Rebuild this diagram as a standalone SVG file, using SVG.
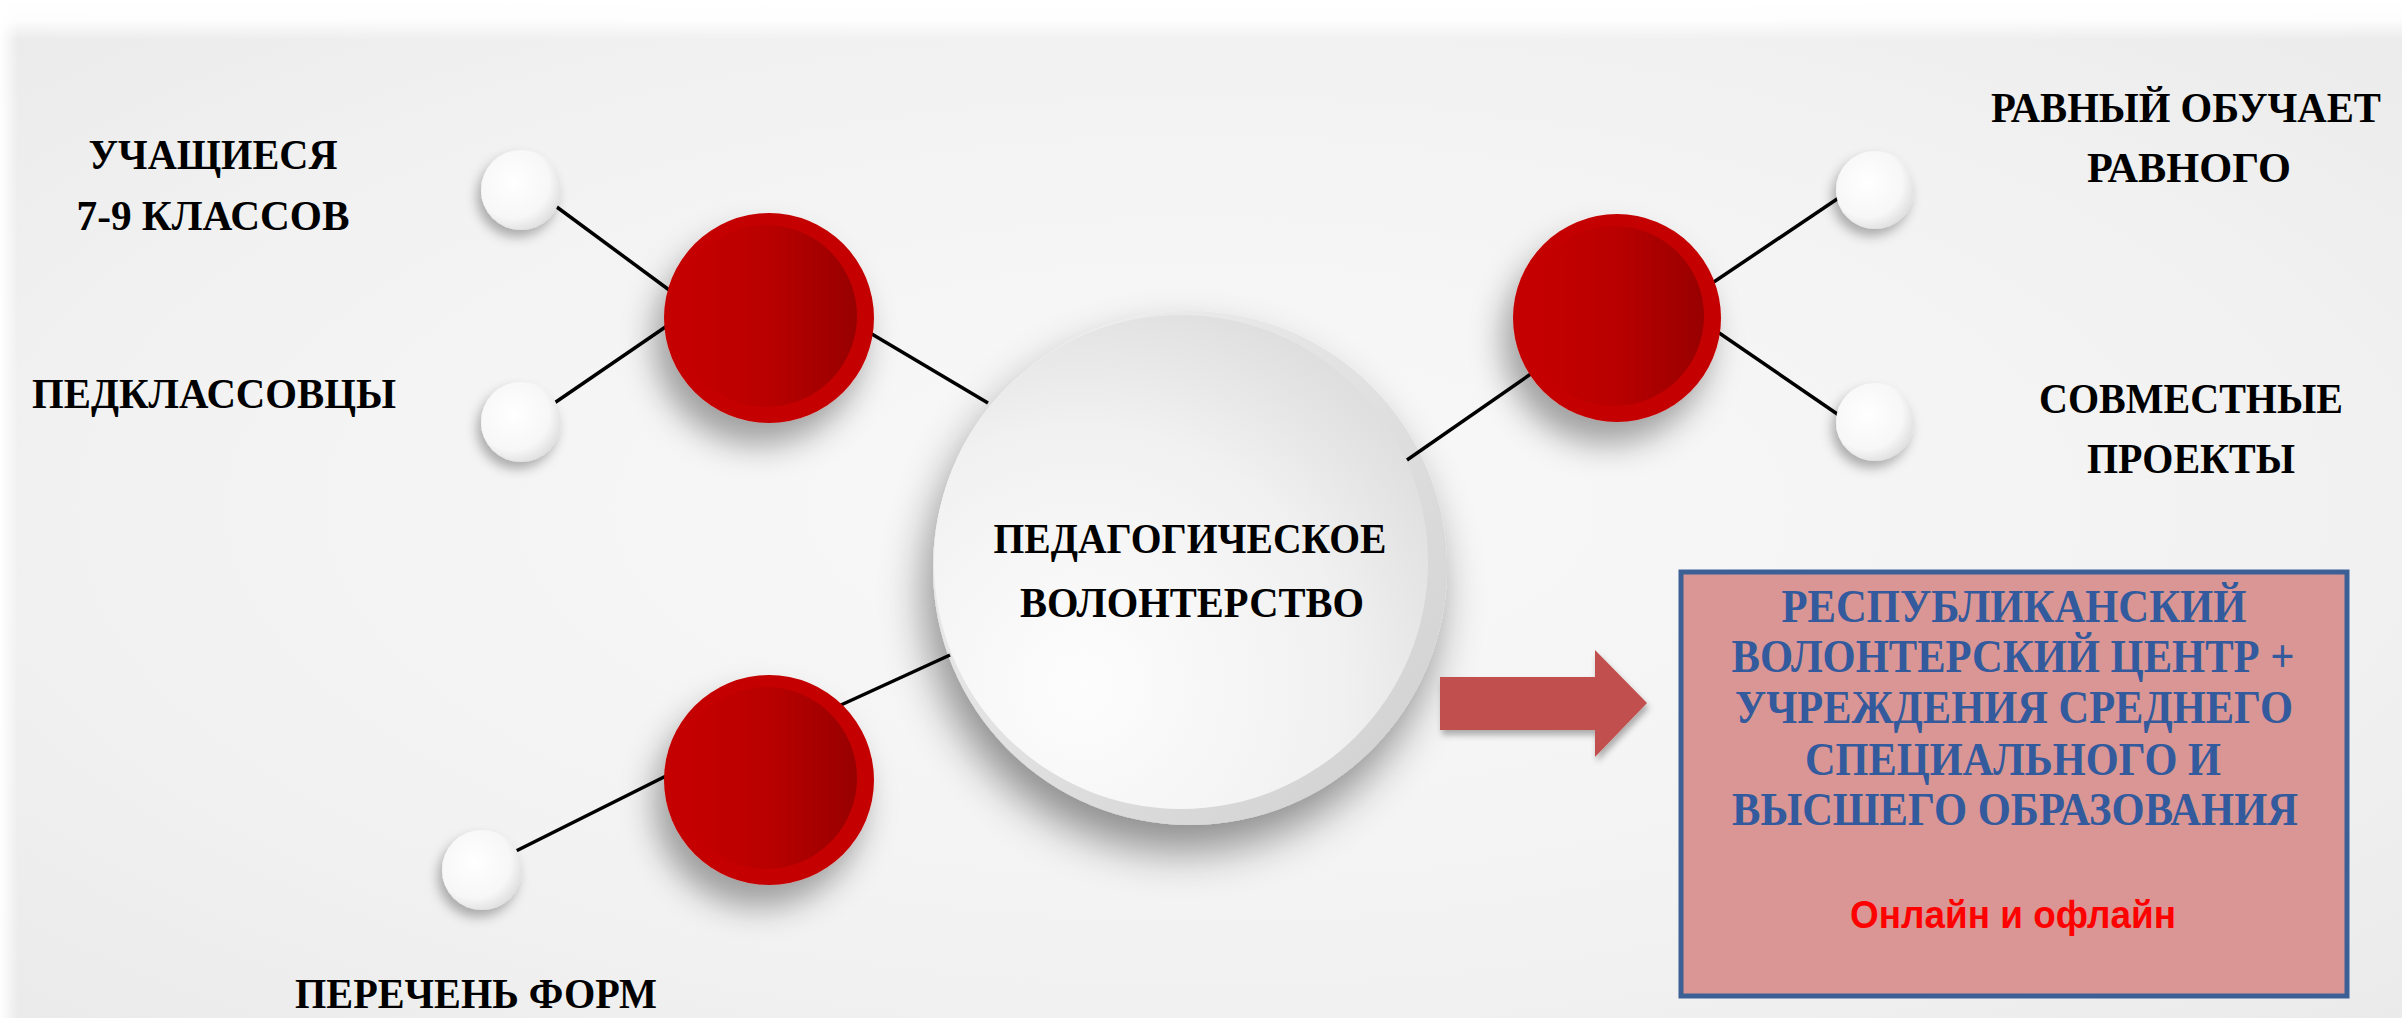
<svg xmlns="http://www.w3.org/2000/svg" width="2402" height="1018" viewBox="0 0 2402 1018">
<defs>
<style>
.lbl{font-family:"Liberation Serif","Times New Roman",serif;font-weight:bold;font-size:43px;fill:#000;text-anchor:middle}
.ctr{font-family:"Liberation Serif","Times New Roman",serif;font-weight:bold;font-size:43px;fill:#000;text-anchor:middle}
.box{font-family:"Liberation Serif","Times New Roman",serif;font-weight:bold;font-size:46px;fill:#335A9C;text-anchor:middle}
.red{font-family:"Liberation Sans",Arial,sans-serif;font-weight:bold;font-size:38px;fill:#FF0000;text-anchor:middle}
.conn line{stroke:#000;stroke-width:3.5;stroke-linecap:butt}
</style>
<radialGradient id="bg" cx="0.5" cy="0.5" r="0.75">
<stop offset="0" stop-color="#f9f9f9"/>
<stop offset="0.6" stop-color="#f2f2f2"/>
<stop offset="1" stop-color="#e9e9e9"/>
</radialGradient>
<linearGradient id="topband" x1="0" y1="0" x2="0" y2="1">
<stop offset="0" stop-color="#ffffff" stop-opacity="1"/>
<stop offset="0.5" stop-color="#ffffff" stop-opacity="0.9"/>
<stop offset="1" stop-color="#ffffff" stop-opacity="0"/>
</linearGradient>
<linearGradient id="leftband" x1="0" y1="0" x2="1" y2="0">
<stop offset="0" stop-color="#ffffff" stop-opacity="1"/>
<stop offset="1" stop-color="#ffffff" stop-opacity="0"/>
</linearGradient>
<linearGradient id="redInner" x1="0" y1="0" x2="1" y2="0">
<stop offset="0" stop-color="#C60000"/>
<stop offset="0.5" stop-color="#BA0000"/>
<stop offset="1" stop-color="#980000"/>
</linearGradient>
<radialGradient id="smallFace" cx="0.4" cy="0.4" r="0.65">
<stop offset="0" stop-color="#ffffff"/>
<stop offset="0.7" stop-color="#f7f7f7"/>
<stop offset="1" stop-color="#dedede"/>
</radialGradient>
<linearGradient id="bigRim" x1="0" y1="0" x2="1" y2="1">
<stop offset="0" stop-color="#f2f2f2"/>
<stop offset="1" stop-color="#cfcfcf"/>
</linearGradient>
<radialGradient id="bigFace" cx="0.3" cy="0.75" r="0.95">
<stop offset="0" stop-color="#fdfdfd"/>
<stop offset="0.55" stop-color="#f1f1f1"/>
<stop offset="1" stop-color="#d6d6d6"/>
</radialGradient>
<filter id="shBig" x="-40%" y="-40%" width="180%" height="180%">
<feGaussianBlur in="SourceAlpha" stdDeviation="22"/>
<feOffset dx="-8" dy="26" result="b"/>
<feFlood flood-color="#000" flood-opacity="0.42"/>
<feComposite in2="b" operator="in"/>
<feMerge><feMergeNode/><feMergeNode in="SourceGraphic"/></feMerge>
</filter>
<filter id="shRed" x="-50%" y="-50%" width="200%" height="200%">
<feGaussianBlur in="SourceAlpha" stdDeviation="16"/>
<feOffset dx="-10" dy="22" result="b"/>
<feFlood flood-color="#000" flood-opacity="0.35"/>
<feComposite in2="b" operator="in"/>
<feMerge><feMergeNode/><feMergeNode in="SourceGraphic"/></feMerge>
</filter>
<filter id="shSmall" x="-60%" y="-60%" width="220%" height="220%">
<feGaussianBlur in="SourceAlpha" stdDeviation="6"/>
<feOffset dx="-4" dy="7" result="b"/>
<feFlood flood-color="#000" flood-opacity="0.3"/>
<feComposite in2="b" operator="in"/>
<feMerge><feMergeNode/><feMergeNode in="SourceGraphic"/></feMerge>
</filter>
<filter id="shArrow" x="-20%" y="-20%" width="140%" height="150%">
<feGaussianBlur in="SourceAlpha" stdDeviation="3"/>
<feOffset dx="2" dy="5" result="b"/>
<feFlood flood-color="#000" flood-opacity="0.3"/>
<feComposite in2="b" operator="in"/>
<feMerge><feMergeNode/><feMergeNode in="SourceGraphic"/></feMerge>
</filter>
</defs>

<g id="background">
<rect x="0" y="0" width="2402" height="1018" fill="url(#bg)"/>
<rect x="0" y="0" width="2402" height="40" fill="url(#topband)"/>
<rect x="0" y="0" width="18" height="1018" fill="url(#leftband)"/>
</g>

<g id="node-center">
<g filter="url(#shBig)">
<circle cx="1190" cy="568" r="257" fill="url(#bigRim)"/>
</g>
<circle cx="1181" cy="562" r="247" fill="url(#bigFace)"/>
<text class="ctr" x="1190" y="553" textLength="393" lengthAdjust="spacingAndGlyphs">ПЕДАГОГИЧЕСКОЕ</text>
<text class="ctr" x="1192" y="617" textLength="344" lengthAdjust="spacingAndGlyphs">ВОЛОНТЕРСТВО</text>
</g>

<g id="connectors" class="conn">
<line x1="550" y1="202" x2="680" y2="298"/>
<line x1="550" y1="406" x2="680" y2="317"/>
<line x1="860" y1="327" x2="988" y2="403"/>
<line x1="1690" y1="298" x2="1846" y2="193"/>
<line x1="1690" y1="313" x2="1846" y2="420"/>
<line x1="1548" y1="362" x2="1407" y2="460"/>
<line x1="510" y1="854" x2="680" y2="769"/>
<line x1="830" y1="710" x2="950" y2="655"/>
</g>

<g id="node-red-left">
<g filter="url(#shRed)"><circle cx="769" cy="318" r="105" fill="#C40000"/></g>
<circle cx="766" cy="316" r="91" fill="url(#redInner)"/>
</g>
<g id="node-red-right">
<g filter="url(#shRed)"><circle cx="1617" cy="318" r="104" fill="#C40000"/></g>
<circle cx="1614" cy="316" r="90" fill="url(#redInner)"/>
</g>
<g id="node-red-bottom">
<g filter="url(#shRed)"><circle cx="769" cy="780" r="105" fill="#C40000"/></g>
<circle cx="766" cy="778" r="91" fill="url(#redInner)"/>
</g>

<g id="node-small-1"><circle cx="521" cy="190" r="40" fill="url(#smallFace)" filter="url(#shSmall)"/></g>
<g id="node-small-2"><circle cx="521" cy="422" r="40" fill="url(#smallFace)" filter="url(#shSmall)"/></g>
<g id="node-small-3"><circle cx="1875" cy="190" r="39" fill="url(#smallFace)" filter="url(#shSmall)"/></g>
<g id="node-small-4"><circle cx="1875" cy="422" r="39" fill="url(#smallFace)" filter="url(#shSmall)"/></g>
<g id="node-small-5"><circle cx="482" cy="870" r="40" fill="url(#smallFace)" filter="url(#shSmall)"/></g>

<g id="labels">
<text class="lbl" x="213" y="169" textLength="249" lengthAdjust="spacingAndGlyphs">УЧАЩИЕСЯ</text>
<text class="lbl" x="213" y="230" textLength="273" lengthAdjust="spacingAndGlyphs">7-9 КЛАССОВ</text>
<text class="lbl" x="214" y="408" textLength="364" lengthAdjust="spacingAndGlyphs">ПЕДКЛАССОВЦЫ</text>
<text class="lbl" x="2186" y="122" textLength="390" lengthAdjust="spacingAndGlyphs">РАВНЫЙ ОБУЧАЕТ</text>
<text class="lbl" x="2189" y="182" textLength="204" lengthAdjust="spacingAndGlyphs">РАВНОГО</text>
<text class="lbl" x="2191" y="413" textLength="304" lengthAdjust="spacingAndGlyphs">СОВМЕСТНЫЕ</text>
<text class="lbl" x="2191" y="473" textLength="208" lengthAdjust="spacingAndGlyphs">ПРОЕКТЫ</text>
<text class="lbl" x="476" y="1008" textLength="362" lengthAdjust="spacingAndGlyphs">ПЕРЕЧЕНЬ ФОРМ</text>
</g>

<g id="node-arrow">
<polygon points="1440,677 1595,677 1595,650 1647,703 1595,757 1595,730 1440,730" fill="#C0504D" filter="url(#shArrow)"/>
</g>

<g id="node-box">
<rect x="1681" y="572" width="666" height="424" fill="#D99694" stroke="#3C6096" stroke-width="5"/>
<text class="box" x="2014" y="622" textLength="465" lengthAdjust="spacingAndGlyphs">РЕСПУБЛИКАНСКИЙ</text>
<text class="box" x="2013" y="672" textLength="563" lengthAdjust="spacingAndGlyphs">ВОЛОНТЕРСКИЙ ЦЕНТР +</text>
<text class="box" x="2014" y="723" textLength="558" lengthAdjust="spacingAndGlyphs">УЧРЕЖДЕНИЯ СРЕДНЕГО</text>
<text class="box" x="2013" y="775" textLength="416" lengthAdjust="spacingAndGlyphs">СПЕЦИАЛЬНОГО И</text>
<text class="box" x="2015" y="825" textLength="566" lengthAdjust="spacingAndGlyphs">ВЫСШЕГО ОБРАЗОВАНИЯ</text>
<text class="red" x="2013" y="928" textLength="326" lengthAdjust="spacingAndGlyphs">Онлайн и офлайн</text>
</g>
</svg>
